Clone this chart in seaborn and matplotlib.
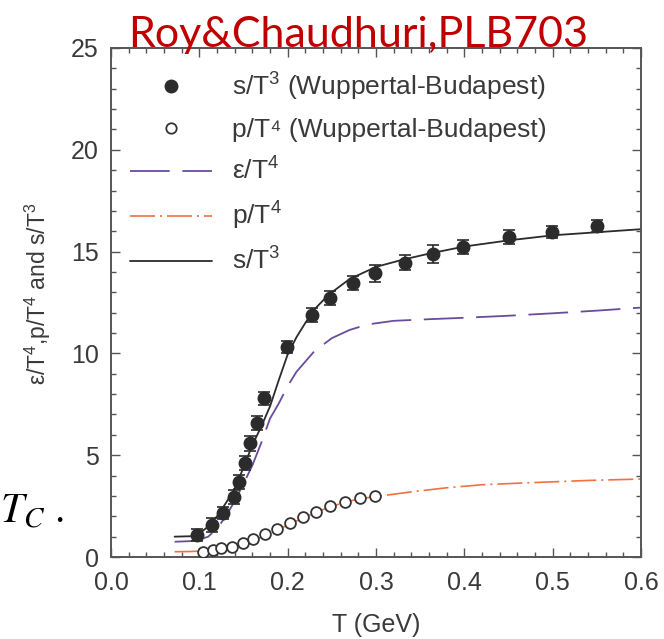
import matplotlib
matplotlib.use("Agg")
import matplotlib.pyplot as plt
import numpy as np
import pandas as pd
import seaborn as sns
from matplotlib.lines import Line2D
from matplotlib.ticker import MultipleLocator

# Wuppertal-Budapest lattice points
wb_s_T = [0.097, 0.114, 0.127, 0.139, 0.145, 0.152, 0.157, 0.165, 0.173, 0.199,
          0.227, 0.248, 0.274, 0.299, 0.333, 0.365, 0.399, 0.451, 0.499, 0.550]
wb_s_val = [1.08, 1.57, 2.15, 2.96, 3.70, 4.60, 5.58, 6.57, 7.79, 10.33,
            11.89, 12.72, 13.44, 13.93, 14.46, 14.88, 15.24, 15.70, 15.98, 16.24]
wb_s_err = [0.3, 0.35, 0.3, 0.35, 0.35, 0.35, 0.35, 0.35, 0.3, 0.3,
            0.35, 0.35, 0.35, 0.4, 0.35, 0.45, 0.35, 0.35, 0.3, 0.3]

wb_p_T = [0.1045, 0.116, 0.125, 0.137, 0.149, 0.161, 0.174, 0.188, 0.203, 0.217,
          0.232, 0.248, 0.265, 0.282, 0.299]
wb_p_val = [0.26, 0.34, 0.42, 0.51, 0.67, 0.87, 1.11, 1.36, 1.69, 1.98,
            2.23, 2.50, 2.72, 2.88, 3.00]

# model curves
eps_T = [0.072, 0.09, 0.10, 0.11, 0.12, 0.13, 0.14, 0.15, 0.16, 0.17, 0.18, 0.19, 0.20,
         0.21, 0.22, 0.23, 0.25, 0.27, 0.29, 0.32, 0.36, 0.40, 0.45, 0.50, 0.55, 0.60]
eps_val = [0.75, 0.78, 0.85, 1.0, 1.4, 2.0, 2.75, 3.6, 4.5, 5.6, 6.8, 7.55, 8.4,
           9.1, 9.6, 10.1, 10.75, 11.15, 11.42, 11.6, 11.68, 11.75, 11.85, 11.97, 12.1, 12.25]

p_T = [0.072, 0.09, 0.10, 0.11, 0.12, 0.13, 0.14, 0.15, 0.16, 0.17, 0.18, 0.19, 0.20,
       0.22, 0.24, 0.26, 0.28, 0.30, 0.34, 0.38, 0.42, 0.48, 0.54, 0.60]
p_val = [0.26, 0.27, 0.29, 0.32, 0.37, 0.44, 0.53, 0.65, 0.8, 0.97, 1.16, 1.36, 1.57,
         1.97, 2.33, 2.63, 2.85, 2.97, 3.2, 3.4, 3.55, 3.66, 3.76, 3.83]

s_T = [0.072, 0.09, 0.10, 0.11, 0.12, 0.13, 0.14, 0.15, 0.16, 0.17, 0.18, 0.19, 0.20,
       0.21, 0.22, 0.23, 0.24, 0.25, 0.27, 0.30, 0.33, 0.36, 0.40, 0.45, 0.50, 0.55, 0.60]
s_val = [1.0, 1.02, 1.15, 1.5, 2.0, 2.65, 3.35, 4.4, 5.5, 6.4, 7.4, 8.7, 9.95,
         10.8, 11.5, 12.15, 12.6, 13.0, 13.65, 14.25, 14.6, 14.9, 15.25, 15.55, 15.8, 15.95, 16.1]

x_ticks = [0.0, 0.1, 0.2, 0.3, 0.4, 0.5, 0.6]
y_ticks = [0, 5, 10, 15, 20, 25]

PURPLE = '#6a4c9c'
ORANGE = '#f07040'
DARK = '#2b2b2b'
TXT = '#3a3a3a'

sns.set_style("ticks")
plt.rcParams['font.family'] = ['Liberation Sans', 'DejaVu Sans']
plt.rcParams['mathtext.fontset'] = 'custom'
plt.rcParams['mathtext.rm'] = 'Liberation Sans'
plt.rcParams['mathtext.it'] = 'Liberation Sans:italic'

fig = plt.figure(figsize=(6.64, 6.39), dpi=100)
ax = fig.add_axes([0.1672, 0.1283, 0.7982, 0.7966])

# curves
sns.lineplot(x=eps_T, y=eps_val, ax=ax, color=PURPLE, linewidth=1.3,
             linestyle=(0, (22, 7)))
sns.lineplot(x=p_T, y=p_val, ax=ax, color=ORANGE, linewidth=1.2,
             linestyle=(0, (15, 3, 1.2, 3)))
sns.lineplot(x=s_T, y=s_val, ax=ax, color=DARK, linewidth=1.3)

# lattice data
ax.errorbar(wb_s_T, wb_s_val, yerr=wb_s_err, fmt='o', color=DARK, ms=9,
            capsize=4, elinewidth=1.2, capthick=1.2, zorder=5)
sns.scatterplot(x=wb_p_T, y=wb_p_val, ax=ax, s=60, zorder=6)
pts = ax.collections[-1]
pts.set_facecolor('white')
pts.set_edgecolor('#333333')
pts.set_linewidth(1.3)

ax.set_xlim(0, 0.6)
ax.set_ylim(0, 25)
ax.set_xticks(x_ticks)
ax.set_xticklabels([f'{t:.1f}' for t in x_ticks])
ax.set_yticks(y_ticks)
ax.xaxis.set_minor_locator(MultipleLocator(0.02))
ax.yaxis.set_minor_locator(MultipleLocator(1))
ax.tick_params(which='both', direction='in', top=True, right=True,
               color='#555555', width=1.0, labelsize=18, labelcolor=TXT)
ax.tick_params(which='major', length=6.5)
ax.tick_params(which='minor', length=3.3)
ax.tick_params(axis='x', pad=10)
ax.tick_params(axis='y', pad=9)
for sp in ax.spines.values():
    sp.set_color('#555555')
    sp.set_linewidth(1.4)

ax.set_xlabel('T (GeV)', fontsize=18, color=TXT)
ax.xaxis.set_label_coords(0.5, -0.11)
ax.xaxis.label.set_va('top')
ax.set_ylabel('ε/T$^4$,p/T$^4$ and s/T$^3$', fontsize=16.5, color=TXT)
ax.yaxis.set_label_coords(-0.109, 0.517)

handles = [
    Line2D([], [], marker='o', ls='none', color=DARK, ms=9),
    Line2D([], [], marker='o', ls='none', mfc='white', mec='#333333', mew=1.3, ms=7.5),
    Line2D([], [], color=PURPLE, lw=1.3, ls=(0, (22, 7))),
    Line2D([], [], color=ORANGE, lw=1.2, ls=(0, (15, 3, 1.2, 3))),
    Line2D([], [], color=DARK, lw=1.3),
]
labels = ['s/T$^3$ (Wuppertal-Budapest)', 'p/T⁴ (Wuppertal-Budapest)',
          'ε/T$^4$', 'p/T$^4$', 's/T$^3$']
ax.legend(handles, labels, loc='upper left', bbox_to_anchor=(0.036, 0.955),
          frameon=False, fontsize=19, handlelength=3.1, handletextpad=0.75,
          labelspacing=0.58, borderpad=0, borderaxespad=0, labelcolor=TXT)

fig.text(0.539, 1 - 47 / 639, 'Roy&Chaudhuri,PLB703', color='#c00000',
         fontsize=31, family='Lato', ha='center', va='baseline')
fig.text(0.0, 1 - 523 / 639, r'$T_{C}$ .', fontsize=30, family='STIXGeneral',
         math_fontfamily='stix', ha='left', va='baseline', color='black')

fig.savefig('out.png', dpi=100)
